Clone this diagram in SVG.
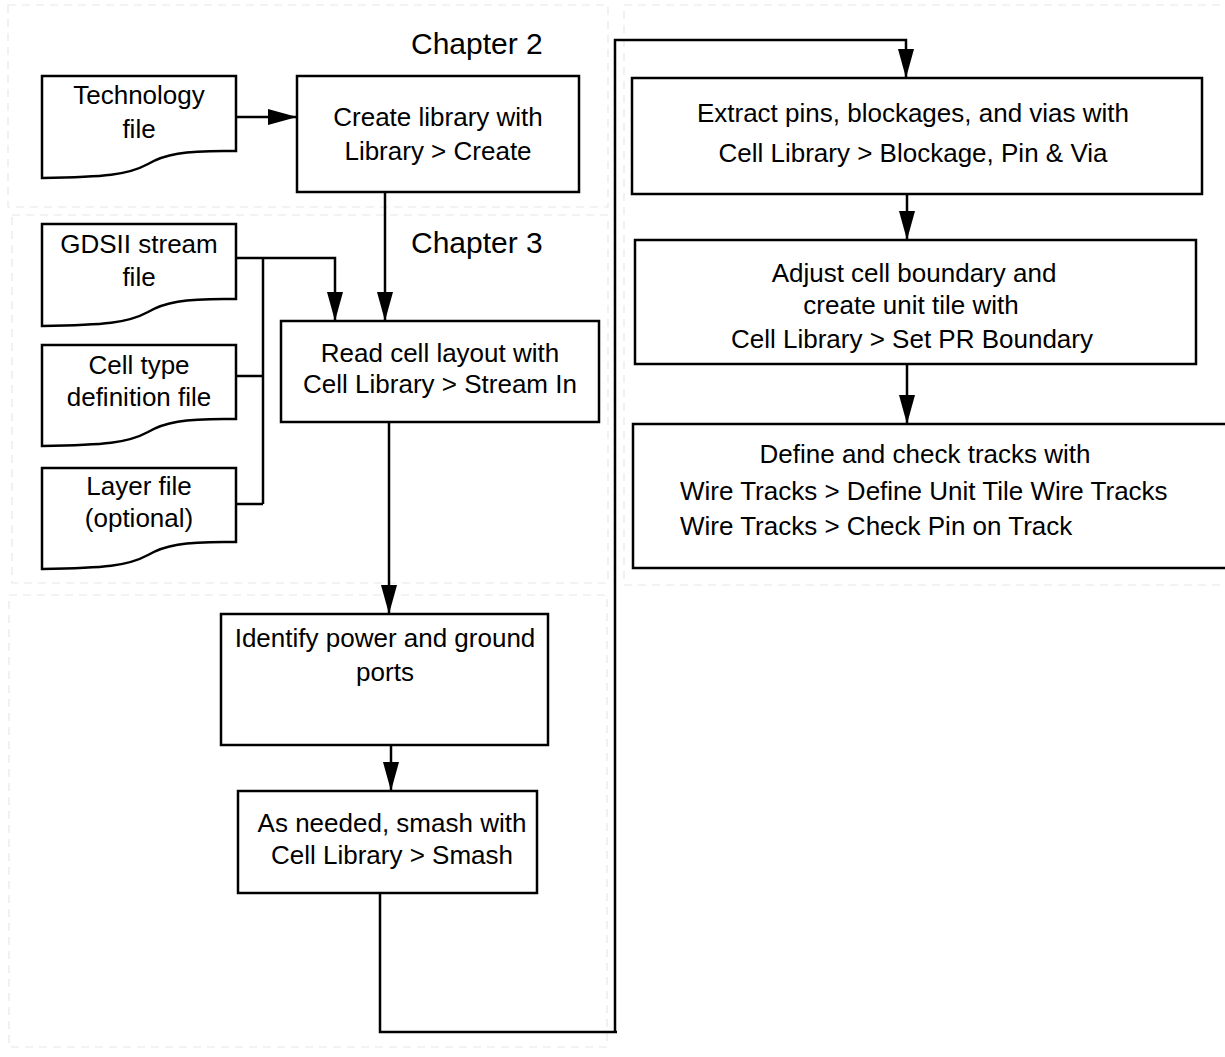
<svg xmlns="http://www.w3.org/2000/svg" width="1225" height="1057" viewBox="0 0 1225 1057">
  <style>
    .zone { fill: none; stroke: #e8e8e8; stroke-width: 1.2; stroke-dasharray: 8 6; }
    .box { fill: #ffffff; stroke: #000000; stroke-width: 2.5; }
    .doc { fill: #ffffff; stroke: #000000; stroke-width: 2.5; stroke-linejoin: miter; }
    .lbl { font-family: "Liberation Sans", Arial, Helvetica, sans-serif; font-size: 26px; fill: #000000; }
    .mid { text-anchor: middle; }
    .chap { font-family: "Liberation Sans", Arial, Helvetica, sans-serif; font-size: 30px; fill: #000000; }
    .wire { fill: none; stroke: #000000; stroke-width: 2.5; }
  </style>
  <defs>
    <marker id="arrow" markerUnits="userSpaceOnUse" viewBox="0 0 29 16" refX="29" refY="8" markerWidth="29" markerHeight="16" orient="auto">
      <path d="M0,0 L29,8 L0,16 Z" fill="#000000"/>
    </marker>
  </defs>

  <rect width="1225" height="1057" fill="#ffffff"/>

  <!-- chapter zones -->
  <g id="zones">
    <rect class="zone" x="8" y="5" width="600" height="202"/>
    <rect class="zone" x="12" y="215" width="596" height="368"/>
    <rect class="zone" x="9" y="595" width="598" height="452"/>
    <rect class="zone" x="624" y="5" width="610" height="580"/>
  </g>

  <text class="chap" x="411" y="54">Chapter 2</text>
  <text class="chap" x="411" y="253">Chapter 3</text>

  <!-- input files -->
  <g id="tech-file">
    <path class="doc" d="M42,76 H236 V151 H224 C185,151 165,154 148,164 C128,175 105,177 42,178 Z"/>
    <text class="lbl mid" x="139" y="104">Technology</text>
    <text class="lbl mid" x="139" y="138">file</text>
  </g>
  <g id="gds-file">
    <path class="doc" d="M42,224 H236 V299 H224 C185,299 165,302 148,312 C128,323 105,325 42,326 Z"/>
    <text class="lbl mid" x="139" y="253">GDSII stream</text>
    <text class="lbl mid" x="139" y="286">file</text>
  </g>
  <g id="celltype-file">
    <path class="doc" d="M42,345 H236 V419 H224 C185,419 165,422 148,432 C128,443 105,445 42,446 Z"/>
    <text class="lbl mid" x="139" y="374">Cell type</text>
    <text class="lbl mid" x="139" y="406">definition file</text>
  </g>
  <g id="layer-file">
    <path class="doc" d="M42,468 H236 V542 H224 C185,542 165,545 148,555 C128,566 105,568 42,569 Z"/>
    <text class="lbl mid" x="139" y="495">Layer file</text>
    <text class="lbl mid" x="139" y="527">(optional)</text>
  </g>

  <!-- process steps -->
  <g id="create-library">
    <rect class="box" x="297" y="76" width="282" height="116"/>
    <text class="lbl mid" x="438" y="126">Create library with</text>
    <text class="lbl mid" x="438" y="160">Library &gt; Create</text>
  </g>
  <g id="read-layout">
    <rect class="box" x="281" y="321" width="318" height="101"/>
    <text class="lbl mid" x="440" y="362">Read cell layout with</text>
    <text class="lbl mid" x="440" y="393">Cell Library &gt; Stream In</text>
  </g>
  <g id="identify-ports">
    <rect class="box" x="221" y="614" width="327" height="131"/>
    <text class="lbl mid" x="385" y="647">Identify power and ground</text>
    <text class="lbl mid" x="385" y="681">ports</text>
  </g>
  <g id="smash">
    <rect class="box" x="238" y="791" width="299" height="102"/>
    <text class="lbl mid" x="392" y="832">As needed, smash with</text>
    <text class="lbl mid" x="392" y="864">Cell Library &gt; Smash</text>
  </g>
  <g id="extract">
    <rect class="box" x="632" y="78" width="570" height="116"/>
    <text class="lbl mid" x="913" y="122">Extract pins, blockages, and vias with</text>
    <text class="lbl mid" x="913" y="162">Cell Library &gt; Blockage, Pin &amp; Via</text>
  </g>
  <g id="adjust-boundary">
    <rect class="box" x="635" y="240" width="561" height="124"/>
    <text class="lbl mid" x="914" y="282">Adjust cell boundary and</text>
    <text class="lbl mid" x="911" y="314">create unit tile with</text>
    <text class="lbl mid" x="912" y="348">Cell Library &gt; Set PR Boundary</text>
  </g>
  <g id="define-tracks">
    <rect class="box" x="633" y="424" width="600" height="144"/>
    <text class="lbl mid" x="925" y="463">Define and check tracks with</text>
    <text class="lbl" x="680" y="500">Wire Tracks &gt; Define Unit Tile Wire Tracks</text>
    <text class="lbl" x="680" y="535">Wire Tracks &gt; Check Pin on Track</text>
  </g>

  <!-- connectors -->
  <g id="connectors">
    <path class="wire" d="M236,117 H297" marker-end="url(#arrow)"/>
    <path class="wire" d="M385,192 V321" marker-end="url(#arrow)"/>
    <path class="wire" d="M237,258 H335 V321" marker-end="url(#arrow)"/>
    <path class="wire" d="M263,258 V504"/>
    <path class="wire" d="M236,376 H263"/>
    <path class="wire" d="M236,504 H263"/>
    <path class="wire" d="M389,422 V614" marker-end="url(#arrow)"/>
    <path class="wire" d="M391,745 V791" marker-end="url(#arrow)"/>
    <path class="wire" d="M380,893 V1032 H617"/>
    <path class="wire" d="M615,1032 V40 H906 V78" marker-end="url(#arrow)"/>
    <path class="wire" d="M907,194 V240" marker-end="url(#arrow)"/>
    <path class="wire" d="M907,364 V424" marker-end="url(#arrow)"/>
  </g>
</svg>
